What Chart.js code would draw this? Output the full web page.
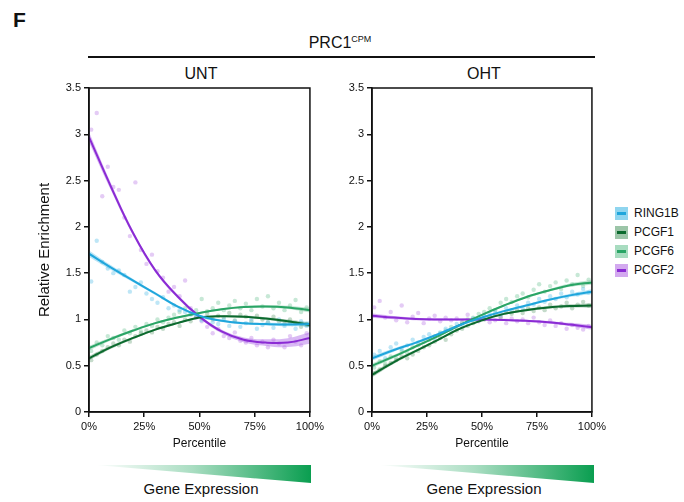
<!DOCTYPE html>
<html>
<head>
<meta charset="utf-8">
<script src="https://cdn.jsdelivr.net/npm/chart.js@4.4.1/dist/chart.umd.min.js"></script>
<style>
  body { margin:0; background:#fff; font-family:"Liberation Sans", Arial, sans-serif; color:#111; }
  #page { position:relative; width:684px; height:502px; overflow:hidden; }
  .abs { position:absolute; }
  .lbl { position:absolute; transform:translate(-50%,-50%); white-space:nowrap; }
  .tri { position:absolute; height:18px;
         background:linear-gradient(to right, rgba(10,158,80,0) 0%, rgba(10,158,80,0.35) 45%, #0a9e50 100%);
         clip-path:polygon(0 0, 100% 0, 100% 100%); }
  .leg { position:absolute; left:615px; font-size:12px; }
  .leg .box { position:absolute; left:0; top:0; width:13px; height:13px; }
  .leg .box i { position:absolute; left:2px; right:2px; top:5px; height:3px; display:block; }
  .leg span { position:absolute; left:19px; top:-1px; }
</style>
</head>
<body>
<div id="page">
  <div class="abs" style="left:13px;top:8px;font-size:21px;font-weight:bold;">F</div>
  <div class="lbl" style="left:340px;top:43px;font-size:16px;">PRC1<sup style="font-size:9px;">CPM</sup></div>
  <div class="abs" style="left:88px;top:56px;width:507px;height:2px;background:#111;"></div>
  <div class="lbl" style="left:201px;top:74px;font-size:16px;">UNT</div>
  <div class="lbl" style="left:484px;top:74px;font-size:16px;">OHT</div>

  <div class="abs" style="left:34px;top:78px;width:293px;height:373px;"><canvas id="chartUNT"></canvas></div>
  <div class="abs" style="left:337px;top:78px;width:272px;height:373px;"><canvas id="chartOHT"></canvas></div>

  <div id="legend"></div>

  <div class="tri" style="left:95px;top:465px;width:216px;"></div>
  <div class="tri" style="left:378px;top:465px;width:216px;"></div>
  <div class="lbl" style="left:201px;top:488px;font-size:15px;">Gene Expression</div>
  <div class="lbl" style="left:484px;top:488px;font-size:15px;">Gene Expression</div>
</div>

<script>
// series names and colours
var seriesNames = ['RING1B', 'PCGF1', 'PCGF6', 'PCGF2'];
var lineColors  = ['#1fa6dc', '#0b6a2e', '#2aa566', '#8b2bd4'];
var boxColors   = ['#8fd5ef', '#9cc5a8', '#a8dcc0', '#d3a9ef'];
var dotColors   = ['rgba(110,200,235,0.45)', 'rgba(110,165,125,0.40)', 'rgba(130,205,165,0.45)', 'rgba(195,140,232,0.45)'];
var bandColors  = ['rgba(60,180,230,0.35)', 'rgba(20,110,50,0.30)', 'rgba(50,170,105,0.30)', 'rgba(170,100,230,0.45)'];

// fitted curves, read at these percentiles
var pct = [0, 10, 20, 30, 40, 50, 60, 70, 80, 90, 100];

var untRing1b = [1.71, 1.56, 1.42, 1.28, 1.14, 1.04, 0.985, 0.96, 0.95, 0.945, 0.95];
var untPcgf1  = [0.58, 0.70, 0.80, 0.89, 0.96, 1.02, 1.035, 1.03, 1.01, 0.98, 0.94];
var untPcgf6  = [0.69, 0.79, 0.88, 0.96, 1.02, 1.07, 1.11, 1.135, 1.14, 1.13, 1.10];
var untPcgf2  = [2.97, 2.43, 1.93, 1.53, 1.25, 1.03, 0.87, 0.78, 0.75, 0.75, 0.80];

var ohtRing1b = [0.58, 0.67, 0.75, 0.84, 0.94, 1.02, 1.09, 1.15, 1.21, 1.26, 1.30];
var ohtPcgf1  = [0.40, 0.54, 0.66, 0.78, 0.90, 0.99, 1.06, 1.10, 1.13, 1.145, 1.15];
var ohtPcgf6  = [0.50, 0.60, 0.71, 0.82, 0.94, 1.05, 1.15, 1.24, 1.31, 1.37, 1.40];
var ohtPcgf2  = [1.04, 1.02, 1.005, 1.0, 1.0, 1.0, 0.995, 0.985, 0.97, 0.945, 0.915];

// confidence band half widths
var bandNarrow = [0.025, 0.018, 0.014, 0.012, 0.011, 0.011, 0.011, 0.012, 0.014, 0.018, 0.025];
var bandMid    = [0.035, 0.025, 0.018, 0.015, 0.013, 0.012, 0.012, 0.013, 0.015, 0.02, 0.03];
var bandWide   = [0.055, 0.038, 0.026, 0.02, 0.018, 0.017, 0.02, 0.026, 0.036, 0.048, 0.062];

// binned points
var scatterPct = [1, 3.5, 6, 8.5, 11, 13.5, 16, 18.5, 21, 23.5, 26, 28.5, 31, 33.5, 36, 38.5, 41, 43.5, 46, 48.5,
                  51, 53.5, 56, 58.5, 61, 63.5, 66, 68.5, 71, 73.5, 76, 78.5, 81, 83.5, 86, 88.5, 91, 93.5, 96, 98.5];

var untRing1bPts = [1.41, 1.85, 1.62, 1.55, 1.50, 1.53, 1.48, 1.30, 1.35, 1.40, 1.28, 1.22, 1.18, 1.24, 1.12, 1.15, 1.10, 1.08, 1.05, 1.04,
                    0.99, 1.02, 0.97, 0.95, 1.00, 0.93, 0.98, 0.92, 0.96, 1.00, 0.90, 0.94, 0.97, 0.91, 1.00, 0.93, 0.96, 0.90, 0.98, 0.93];
var untPcgf1Pts  = [0.56, 0.62, 0.66, 0.70, 0.74, 0.72, 0.78, 0.76, 0.82, 0.85, 0.88, 0.86, 0.92, 0.90, 0.95, 0.97, 0.93, 1.00, 0.98, 1.03,
                    1.01, 1.06, 1.00, 1.04, 1.02, 1.07, 0.99, 1.05, 1.03, 0.98, 1.04, 1.00, 0.97, 1.03, 0.98, 0.95, 1.00, 0.96, 0.92, 0.95];
var untPcgf6Pts  = [0.66, 0.75, 0.72, 0.82, 0.80, 0.78, 0.88, 0.85, 0.92, 0.87, 0.95, 0.93, 1.00, 0.97, 1.02, 1.05, 1.08, 1.12, 1.06, 1.10,
                    1.22, 1.09, 1.12, 1.18, 1.10, 1.15, 1.20, 1.12, 1.17, 1.10, 1.22, 1.14, 1.25, 1.12, 1.18, 1.10, 1.15, 1.21, 1.08, 1.13];
var untPcgf2Pts  = [3.05, 3.23, 2.33, 2.65, 2.43, 2.40, 2.10, 1.90, 2.48, 1.75, 1.60, 1.70, 1.52, 1.45, 1.30, 1.35, 1.25, 1.42, 1.12, 1.02,
                    0.98, 0.92, 0.85, 0.90, 0.82, 0.80, 0.86, 0.77, 0.75, 0.80, 0.72, 0.76, 0.70, 0.78, 0.74, 0.70, 0.82, 0.76, 0.72, 0.85];

var ohtRing1bPts = [0.62, 0.66, 0.58, 0.70, 0.74, 0.68, 0.72, 0.78, 0.75, 0.81, 0.84, 0.80, 0.86, 0.90, 0.88, 0.95, 0.93, 0.98, 1.01, 0.99,
                    1.04, 1.06, 1.08, 1.05, 1.12, 1.10, 1.15, 1.12, 1.18, 1.16, 1.22, 1.19, 1.25, 1.22, 1.28, 1.24, 1.30, 1.27, 1.33, 1.29];
var ohtPcgf1Pts  = [0.42, 0.46, 0.50, 0.53, 0.56, 0.60, 0.58, 0.62, 0.66, 0.70, 0.72, 0.76, 0.80, 0.78, 0.84, 0.88, 0.90, 0.93, 0.96, 0.99,
                    1.00, 1.03, 1.05, 1.02, 1.08, 1.06, 1.10, 1.07, 1.12, 1.09, 1.13, 1.10, 1.16, 1.12, 1.14, 1.18, 1.12, 1.16, 1.19, 1.15];
var ohtPcgf6Pts  = [0.48, 0.55, 0.52, 0.60, 0.58, 0.66, 0.64, 0.70, 0.72, 0.76, 0.78, 0.82, 0.85, 0.88, 0.92, 0.90, 0.97, 1.00, 1.02, 1.06,
                    1.08, 1.12, 1.10, 1.18, 1.22, 1.19, 1.25, 1.28, 1.24, 1.32, 1.38, 1.30, 1.36, 1.40, 1.33, 1.42, 1.38, 1.48, 1.36, 1.43];
var ohtPcgf2Pts  = [1.13, 1.20, 1.02, 1.08, 0.99, 1.15, 0.97, 1.03, 1.07, 0.96, 1.01, 1.04, 0.98, 1.02, 0.99, 1.01, 0.97, 1.05, 1.00, 0.98,
                    1.02, 0.97, 0.99, 1.03, 0.96, 1.01, 0.98, 1.00, 0.96, 1.02, 0.97, 0.94, 0.99, 0.93, 0.96, 0.90, 0.94, 0.91, 0.89, 0.93];

var yTicks = [0, 0.5, 1, 1.5, 2, 2.5, 3, 3.5];
var xTicks = [0, 25, 50, 75, 100];

function toXY(xs, ys, add) {
  var out = [];
  for (var i = 0; i < xs.length; i++) {
    out.push({ x: xs[i], y: ys[i] + (add ? add[i] : 0) });
  }
  return out;
}
function neg(arr) {
  return arr.map(function (v) { return -v; });
}

function buildDatasets(curves, bands, points) {
  var ds = [];
  // scatter points at the back
  for (var i = 0; i < curves.length; i++) {
    ds.push({ type: 'scatter', data: toXY(scatterPct, points[i]), pointRadius: 2.2, pointBorderWidth: 0,
              backgroundColor: dotColors[i], order: 3 });
  }
  // bands: upper fills down to lower
  for (var i = 0; i < curves.length; i++) {
    ds.push({ data: toXY(pct, curves[i], bands[i]), borderWidth: 0, pointRadius: 0, tension: 0.4,
              fill: '+1', backgroundColor: bandColors[i], order: 2 });
    ds.push({ data: toXY(pct, curves[i], neg(bands[i])), borderWidth: 0, pointRadius: 0, tension: 0.4,
              fill: false, order: 2 });
  }
  // fitted lines
  for (var i = 0; i < curves.length; i++) {
    ds.push({ data: toXY(pct, curves[i]), borderColor: lineColors[i], borderWidth: 2, pointRadius: 0,
              tension: 0.4, fill: false, order: 1 });
  }
  return ds;
}

var frameBox = {
  id: 'frameBox',
  afterDraw: function (chart) {
    var a = chart.chartArea, c = chart.ctx;
    c.save();
    c.strokeStyle = '#111';
    c.lineWidth = 1.5;
    c.strokeRect(a.left, a.top, a.right - a.left, a.bottom - a.top);
    c.restore();
  }
};

function makeChart(id, datasets, yWidth, showTitle) {
  var ctx = document.getElementById(id).getContext('2d');
  return new Chart(ctx, {
    type: 'line',
    data: { datasets: datasets },
    plugins: [frameBox],
    options: {
      responsive: true,
      maintainAspectRatio: false,
      animation: false,
      layout: { padding: { top: 10, right: 15, left: 0, bottom: 0 } },
      plugins: { legend: { display: false }, tooltip: { enabled: false } },
      scales: {
        x: {
          type: 'linear', min: 0, max: 100,
          afterBuildTicks: function (s) { s.ticks = xTicks.map(function (v) { return { value: v }; }); },
          afterFit: function (s) { s.height = 39; },
          ticks: { color: '#111', font: { size: 11, family: 'Liberation Sans' }, padding: 3,
                   maxRotation: 0, callback: function (v) { return v + '%'; } },
          grid: { drawOnChartArea: false, drawTicks: true, tickLength: 5, color: '#111', lineWidth: 1.5 },
          border: { display: true, color: '#111', width: 1.5 },
          title: { display: true, text: 'Percentile', color: '#111', font: { size: 12, family: 'Liberation Sans' },
                   padding: { top: 0, bottom: 0 } }
        },
        y: {
          min: 0, max: 3.5,
          afterBuildTicks: function (s) { s.ticks = yTicks.map(function (v) { return { value: v }; }); },
          afterFit: function (s) { s.width = yWidth; },
          ticks: { color: '#111', font: { size: 11, family: 'Liberation Sans' }, padding: 3,
                   callback: function (v) { return String(v); } },
          grid: { drawOnChartArea: false, drawTicks: true, tickLength: 5, color: '#111', lineWidth: 1.5 },
          border: { display: true, color: '#111', width: 1.5 },
          title: { display: showTitle, text: 'Relative Enrichment', color: '#111',
                   font: { size: 15, family: 'Liberation Sans' }, padding: { top: 2, bottom: 0 } }
        }
      }
    }
  });
}

makeChart('chartUNT',
  buildDatasets([untRing1b, untPcgf1, untPcgf6, untPcgf2],
                [bandMid, bandNarrow, bandNarrow, bandWide],
                [untRing1bPts, untPcgf1Pts, untPcgf6Pts, untPcgf2Pts]),
  55, true);

makeChart('chartOHT',
  buildDatasets([ohtRing1b, ohtPcgf1, ohtPcgf6, ohtPcgf2],
                [bandNarrow, bandNarrow, bandNarrow, bandNarrow],
                [ohtRing1bPts, ohtPcgf1Pts, ohtPcgf6Pts, ohtPcgf2Pts]),
  35, false);

// legend
var legHtml = '';
for (var i = 0; i < seriesNames.length; i++) {
  legHtml += '<div class="leg" style="top:' + (207 + i * 19) + 'px;">' +
             '<div class="box" style="background:' + boxColors[i] + ';"><i style="background:' + lineColors[i] + ';"></i></div>' +
             '<span>' + seriesNames[i] + '</span></div>';
}
document.getElementById('legend').innerHTML = legHtml;
</script>
</body>
</html>
